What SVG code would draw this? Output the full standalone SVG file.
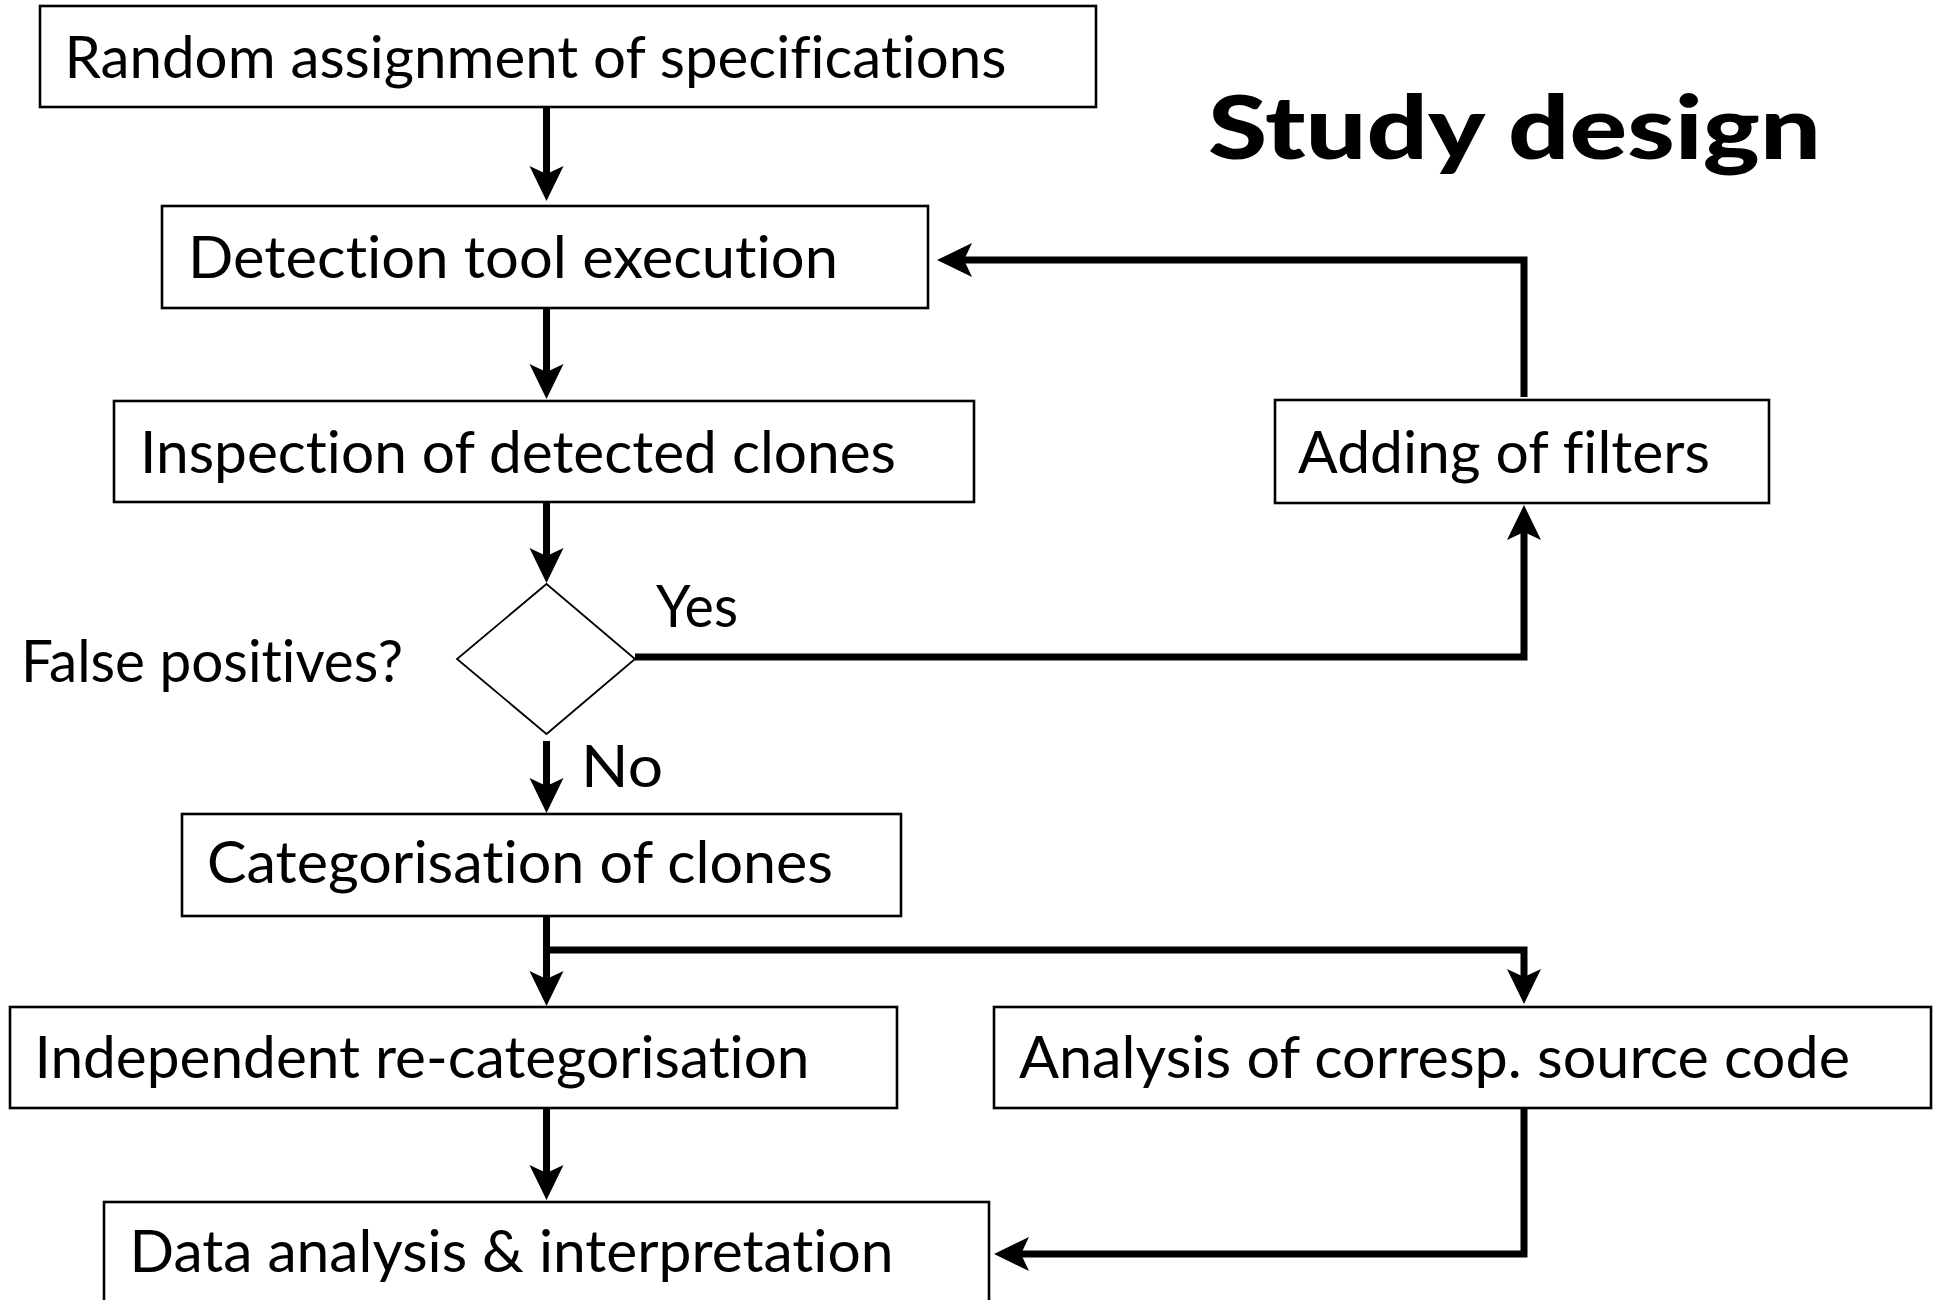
<svg xmlns="http://www.w3.org/2000/svg" width="1934" height="1300" viewBox="0 0 1934 1300">
<style>
  .box { fill: #ffffff; stroke: #000000; stroke-width: 2.6; }
  .dia { fill: #ffffff; stroke: #000000; stroke-width: 1.8; }
  .lbl { font-family: Lato, "Open Sans", "Liberation Sans", sans-serif; font-size: 59px; fill: #000000; font-variant-ligatures: none; }
  .title { font-family: Lato, "Open Sans", "Liberation Sans", sans-serif; font-size: 88px; font-weight: 900; fill: #000000; }
  .con { fill: none; stroke: #000000; stroke-width: 7; stroke-linejoin: miter; }
</style>
<defs>
  <marker id="arr" markerUnits="userSpaceOnUse" viewBox="0 0 36 36" refX="8" refY="18" markerWidth="36" markerHeight="36" orient="auto">
    <path d="M0,1 L35,18 L0,35 L8,18 Z" fill="#000000"/>
  </marker>
</defs>
<rect width="1934" height="1300" fill="#ffffff"/>

<g id="title">
  <text class="title" x="1208" y="159" textLength="613" lengthAdjust="spacingAndGlyphs">Study design</text>
</g>

<g id="connectors">
  <path class="con" d="M546.5,107 V174" marker-end="url(#arr)"/>
  <path class="con" d="M546.5,308 V372" marker-end="url(#arr)"/>
  <path class="con" d="M546.5,502 V556" marker-end="url(#arr)"/>
  <path class="con" d="M546.5,741 V786" marker-end="url(#arr)"/>
  <path class="con" d="M635,657 H1524 V532" marker-end="url(#arr)"/>
  <path class="con" d="M1524,397 V260 H964" marker-end="url(#arr)"/>
  <path class="con" d="M546.5,916 V979" marker-end="url(#arr)"/>
  <path class="con" d="M546.5,950 H1524 V977" marker-end="url(#arr)"/>
  <path class="con" d="M546.5,1108 V1173" marker-end="url(#arr)"/>
  <path class="con" d="M1524,1105 V1254 H1021" marker-end="url(#arr)"/>
</g>

<g id="n-random">
  <rect class="box" x="40" y="6" width="1056" height="101"/>
  <text class="lbl" x="64.5" y="78" textLength="942" lengthAdjust="spacingAndGlyphs">Random assignment of specifications</text>
</g>
<g id="n-detection">
  <rect class="box" x="162" y="206" width="766" height="102"/>
  <text class="lbl" x="188" y="278" textLength="650" lengthAdjust="spacingAndGlyphs">Detection tool execution</text>
</g>
<g id="n-inspection">
  <rect class="box" x="114" y="401" width="860" height="101"/>
  <text class="lbl" x="140" y="473" textLength="756" lengthAdjust="spacingAndGlyphs">Inspection of detected clones</text>
</g>
<g id="n-filters">
  <rect class="box" x="1275" y="400" width="494" height="103"/>
  <text class="lbl" x="1298" y="473" textLength="412" lengthAdjust="spacingAndGlyphs">Adding of filters</text>
</g>
<g id="n-decision">
  <polygon class="dia" points="546.5,584 635,659 546.5,734 457,659"/>
  <text class="lbl" x="21" y="682" textLength="382" lengthAdjust="spacingAndGlyphs">False positives?</text>
  <text class="lbl" x="656" y="627" textLength="82" lengthAdjust="spacingAndGlyphs">Yes</text>
  <text class="lbl" x="581" y="787" textLength="82" lengthAdjust="spacingAndGlyphs">No</text>
</g>
<g id="n-categorisation">
  <rect class="box" x="182" y="814" width="719" height="102"/>
  <text class="lbl" x="207" y="883" textLength="626" lengthAdjust="spacingAndGlyphs">Categorisation of clones</text>
</g>
<g id="n-independent">
  <rect class="box" x="10" y="1007" width="887" height="101"/>
  <text class="lbl" x="34.5" y="1078" textLength="775" lengthAdjust="spacingAndGlyphs">Independent re-categorisation</text>
</g>
<g id="n-analysis">
  <rect class="box" x="994" y="1007" width="937" height="101"/>
  <text class="lbl" x="1019" y="1078" textLength="831" lengthAdjust="spacingAndGlyphs">Analysis of corresp. source code</text>
</g>
<g id="n-data">
  <rect class="box" x="104" y="1202" width="885" height="120"/>
  <text class="lbl" x="129.5" y="1272" textLength="764" lengthAdjust="spacingAndGlyphs">Data analysis &amp; interpretation</text>
</g>
</svg>
